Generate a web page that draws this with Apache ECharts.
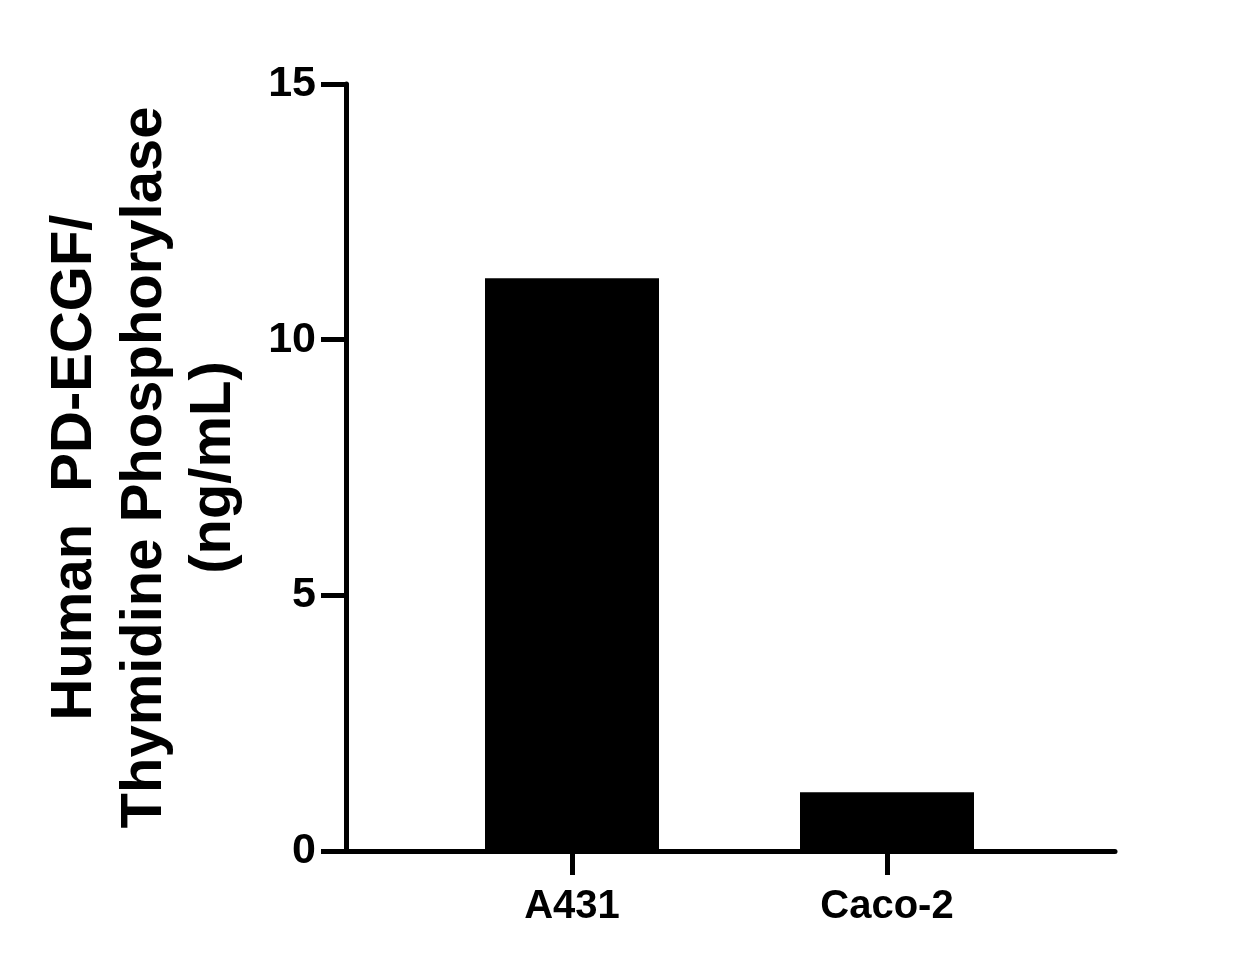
<!DOCTYPE html>
<html>
<head>
<meta charset="utf-8">
<script src="https://cdn.jsdelivr.net/npm/echarts@6/dist/echarts.min.js"></script>
<style>
html,body{margin:0;padding:0;background:#fff;}
#chart{width:1252px;height:967px;}
</style>
</head>
<body>
<div id="chart"></div>
<script>
var categories = ['A431', 'Caco-2'];
var values = [11.2, 1.15];
var yTicks = { min: 0, max: 15, interval: 5 };
var yTitle = 'Human  PD-ECGF/\nThymidine Phosphorylase\n(ng/mL)';

var FONT = '"Liberation Sans", Arial, sans-serif';
var chart = echarts.init(document.getElementById('chart'), null, { renderer: 'canvas' });
chart.setOption({
  backgroundColor: '#ffffff',
  animation: false,
  grid: [
    { left: 346, right: 137, top: 84, bottom: 116, containLabel: false },
    { left: 414.5, right: 207.5, top: 84, bottom: 116, containLabel: false }
  ],
  xAxis: [
    {
      type: 'value', gridIndex: 0, min: 0, max: 1,
      axisLine: { show: true, lineStyle: { color: '#000', width: 5 } },
      axisTick: { show: false }, axisLabel: { show: false }, splitLine: { show: false }
    },
    {
      type: 'category', gridIndex: 1, data: categories,
      axisLine: { show: false },
      axisTick: { show: true, alignWithLabel: true, length: 24, lineStyle: { color: '#000', width: 5 } },
      axisLabel: { show: true, color: '#000', fontFamily: FONT, fontWeight: 'bold', fontSize: 40, margin: 36 },
      splitLine: { show: false }
    }
  ],
  yAxis: [
    {
      type: 'value', gridIndex: 0, min: yTicks.min, max: yTicks.max, interval: yTicks.interval,
      axisLine: { show: true, lineStyle: { color: '#000', width: 5 } },
      axisTick: { show: true, length: 25, lineStyle: { color: '#000', width: 5 } },
      axisLabel: { color: '#000', fontFamily: FONT, fontWeight: 'bold', fontSize: 43, margin: 30 },
      splitLine: { show: false },
      name: yTitle,
      nameLocation: 'middle',
      nameRotate: 90,
      nameGap: 97,
      nameTextStyle: { color: '#000', fontFamily: FONT, fontWeight: 'bold', fontSize: 58, lineHeight: 69.5, align: 'center' }
    },
    {
      type: 'value', gridIndex: 1, min: yTicks.min, max: yTicks.max, interval: yTicks.interval,
      show: false, splitLine: { show: false }
    }
  ],
  series: [
    {
      type: 'bar', xAxisIndex: 1, yAxisIndex: 1,
      data: values, barWidth: 174,
      itemStyle: { color: '#000' }
    }
  ]
});
</script>
</body>
</html>
